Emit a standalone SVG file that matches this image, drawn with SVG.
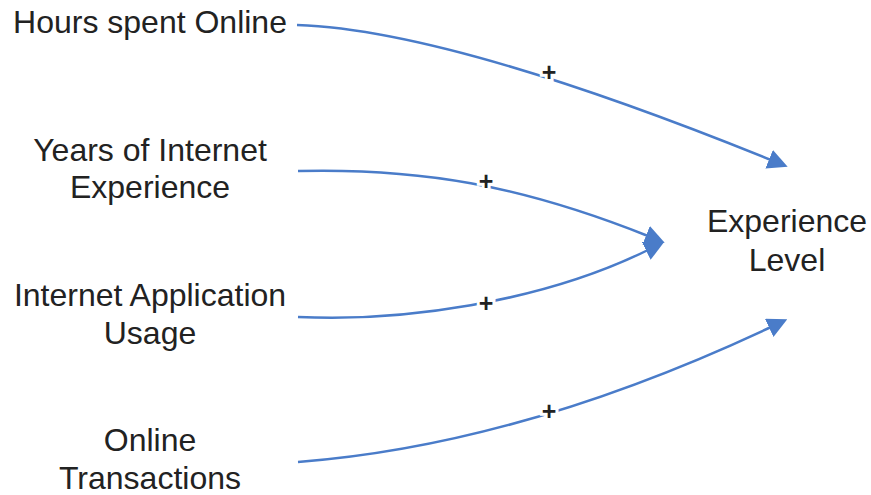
<svg xmlns="http://www.w3.org/2000/svg" width="871" height="495" viewBox="0 0 871 495">
<defs>
<style>
.lbl{font-family:"Liberation Sans",Arial,sans-serif;font-size:32px;fill:#222;text-anchor:middle}
.ln{fill:none;stroke:#4a7cc9;stroke-width:2.5}
.pl{font-family:"Liberation Sans",Arial,sans-serif;font-size:25px;font-weight:bold;fill:#222;text-anchor:middle;stroke:#fff;stroke-width:6px;paint-order:stroke}
</style>
<marker id="a" viewBox="0 0 20 20" refX="2" refY="10" markerWidth="20" markerHeight="20" markerUnits="userSpaceOnUse" orient="auto">
<path d="M0,0 L20,10 L0,20 z" fill="#4a7cc9"/>
</marker>
</defs>
<rect width="871" height="495" fill="#fff"/>
<g id="connectors">
<path class="ln" d="M297,25 Q450,30 771,160" marker-end="url(#a)"/>
<path class="ln" d="M298,171 C420,168 520,185 648,236" marker-end="url(#a)"/>
<path class="ln" d="M298,317 C400,322 540,303 648,250" marker-end="url(#a)"/>
<path class="ln" d="M298,462 Q520,445 771,327" marker-end="url(#a)"/>
<text class="pl" x="549" y="81">+</text>
<text class="pl" x="486" y="190">+</text>
<text class="pl" x="486" y="312">+</text>
<text class="pl" x="549" y="420">+</text>
</g>
<g id="hours"><text class="lbl" x="150" y="33">Hours spent Online</text></g>
<g id="years"><text class="lbl" x="150" y="161">Years of Internet</text><text class="lbl" x="150" y="198">Experience</text></g>
<g id="usage"><text class="lbl" x="150" y="306">Internet Application</text><text class="lbl" x="150" y="344">Usage</text></g>
<g id="transactions"><text class="lbl" x="150" y="451">Online</text><text class="lbl" x="150" y="489">Transactions</text></g>
<g id="experience"><text class="lbl" x="787" y="232">Experience</text><text class="lbl" x="787" y="271">Level</text></g>
</svg>
